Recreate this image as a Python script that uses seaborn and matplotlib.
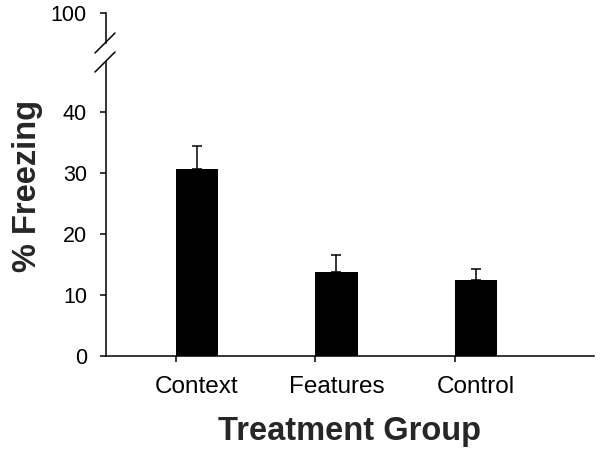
import matplotlib
matplotlib.use('Agg')
import matplotlib.pyplot as plt
import seaborn as sns
import pandas as pd
from matplotlib.lines import Line2D

# values
groups = ['Context', 'Features', 'Control']
freezing = [30.6, 13.8, 12.5]
sem = [3.8, 2.7, 1.8]
lower_ticks = [0, 10, 20, 30, 40]
upper_ticks = [100]

sns.set_style('white')
plt.rcParams['font.family'] = ['Liberation Sans', 'DejaVu Sans']

df = pd.DataFrame({'group': groups, 'freezing': freezing})

W, H = 601, 454
fig = plt.figure(figsize=(W / 100, H / 100), dpi=100)

# broken y axis: big lower panel, thin upper panel holding the 100 tick
ax = fig.add_axes([106 / W, 1 - 356 / H, 488 / W, 294 / H])
ax_top = fig.add_axes([106 / W, 1 - 43 / H, 488 / W, 30 / H])

bar_w = 0.305
sns.barplot(data=df, x='group', y='freezing', color='black', saturation=1,
            width=bar_w, errorbar=None, edgecolor='black', linewidth=0, ax=ax)
ax.errorbar(range(len(groups)), freezing, yerr=[[0] * len(groups), sem],
            fmt='none', ecolor='black', elinewidth=1.1, capsize=3.6, capthick=1.1)

xlim = (-0.652, 2.846)
ax.set_xlim(*xlim)
ax.set_ylim(0, 48.1)
ax.set_yticks(lower_ticks)
ax_top.set_xlim(*xlim)
ax_top.set_ylim(95.1, 100)
ax_top.set_yticks(upper_ticks)
ax_top.set_xticks([])

for a in (ax, ax_top):
    for s in ('top', 'right'):
        a.spines[s].set_visible(False)
    for s in ('left', 'bottom'):
        a.spines[s].set_linewidth(1.1)
        a.spines[s].set_color('black')
    a.tick_params(axis='y', direction='out', length=4.3, width=1.1, pad=9.4,
                  labelsize=15.5, colors='black', left=True)
ax_top.spines['bottom'].set_visible(False)

# x ticks sit at the left edge of each bar, labels at the bar centre
ax.set_xticks(range(len(groups)))
ax.set_xticklabels(groups)
ax.set_xticks([i - bar_w / 2 for i in range(len(groups))], minor=True)
ax.tick_params(axis='x', which='major', length=0, pad=14.5, labelsize=17.5, colors='black')
ax.tick_params(axis='x', which='minor', direction='out', length=4.3, width=1.1,
               bottom=True, colors='black')

ax.set_xlabel('Treatment Group', fontsize=23.5, fontweight='bold', labelpad=13)
ax.set_ylabel('')
fig.text(28 / W, 1 - 186 / H, '% Freezing', rotation=90, ha='center', va='center',
         fontsize=23.5, fontweight='bold')

# break marks
for cy in (43, 62):
    fig.add_artist(Line2D([(105 - 10) / W, (105 + 10) / W],
                          [1 - (cy + 10) / H, 1 - (cy - 10) / H],
                          transform=fig.transFigure, color='black', lw=1.1))

fig.savefig('out.png', dpi=100)
